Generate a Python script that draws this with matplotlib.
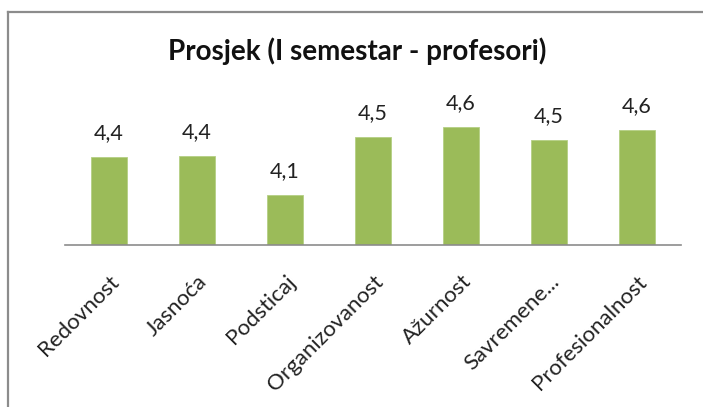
import matplotlib
matplotlib.use("Agg")
import matplotlib.pyplot as plt
from matplotlib.lines import Line2D

# donnees
kategorije = ["Redovnost", "Jasnoća", "Podsticaj", "Organizovanost",
              "Ažurnost", "Savremene...", "Profesionalnost"]
prosjek = [4.40, 4.41, 4.14, 4.54, 4.61, 4.52, 4.59]
naslov = "Prosjek (I semestar - profesori)"

plt.rcParams['font.family'] = ['Lato', 'DejaVu Sans']

fig = plt.figure(figsize=(7.03, 4.07), dpi=100)
ax = fig.add_axes([65 / 703, 162 / 407, 616 / 703, 175 / 407])

x = range(len(kategorije))
bars = ax.bar(x, prosjek, width=0.4, color='#9BBB59', edgecolor='#B5CF84', lw=0.6)
ax.set_ylim(3.8, 5.0)
ax.set_xlim(-0.5, len(kategorije) - 0.5)

for b, v in zip(bars, prosjek):
    ax.annotate(f"{v:.1f}".replace(".", ","), (b.get_x() + b.get_width() / 2, v),
                xytext=(0, 13), textcoords='offset points',
                ha='center', va='baseline', fontsize=15.5, color='#222222')

ax.set_xticks(list(x))
ax.set_xticklabels(kategorije, rotation=45, ha='right', rotation_mode='anchor',
                   fontsize=16, color='#222222')
ax.tick_params(axis='x', length=0, pad=19)
ax.set_yticks([])
for s in ['top', 'right', 'left']:
    ax.spines[s].set_visible(False)
ax.spines['bottom'].set_color('#8C8C8C')
ax.spines['bottom'].set_linewidth(1.2)

fig.text(357 / 703, 1 - 51 / 407, naslov, ha='center', va='center',
         fontsize=20, fontweight='bold', color='#111111')

# cadre exterieur (gauche + haut)
fig.add_artist(Line2D([8 / 703, 8 / 703], [0, 1 - 12 / 407], transform=fig.transFigure,
                      color='#8C8C8C', lw=1.6))
fig.add_artist(Line2D([8 / 703, 1], [1 - 12 / 407, 1 - 12 / 407], transform=fig.transFigure,
                      color='#8C8C8C', lw=1.6))

fig.savefig("out.png", dpi=100)
